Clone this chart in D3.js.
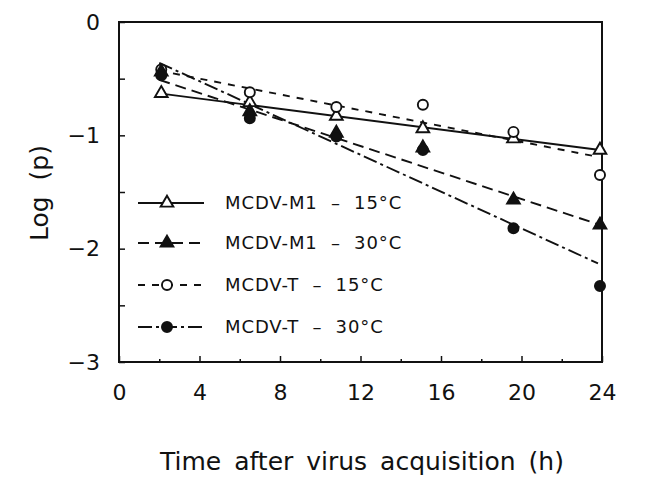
<!DOCTYPE html>
<html>
<head>
<meta charset="utf-8">
<script src="https://cdn.jsdelivr.net/npm/d3@7"></script>
<style>
  body { margin: 0; background: #fff; }
  svg { font-family: "DejaVu Sans", sans-serif; }
</style>
</head>
<body>
<svg width="669" height="479"></svg>
<script>
// time points as they sit in the figure (h)
const hours = [2.1, 6.5, 10.8, 15.1, 19.6, 23.9];

// log(p) per series
const m1_15 = [-0.63, -0.71, -0.83, -0.94, -1.03, -1.13];
const m1_30 = [-0.44, -0.79, -0.98, -1.11, -1.57, -1.79];
const t_15  = [-0.42, -0.62, -0.75, -0.73, -0.97, -1.35];
const t_30  = [-0.47, -0.85, -1.01, -1.13, -1.82, -2.33];

// fitted lines, start and end
const fitM1_15 = [[2.0, -0.63], [23.9, -1.13]];
const fitM1_30 = [[2.0, -0.51], [23.9, -1.79]];
const fitT_15  = [[2.0, -0.43], [23.8, -1.19]];
const fitT_30  = [[2.0, -0.36], [23.8, -2.13]];

const legendNames = ["MCDV-M1  –  15\u00b0C", "MCDV-M1  –  30\u00b0C", "MCDV-T  –  15\u00b0C", "MCDV-T  –  30\u00b0C"];

const xTicks = [0, 4, 8, 12, 16, 20, 24];
const yTicks = [0, -1, -2, -3];

const svg = d3.select("svg");

const x = d3.scaleLinear().domain([0, 24]).range([119, 602]);
const y = d3.scaleLinear().domain([-3, 0]).range([362, 22]);

const series = [
  { vals: m1_15, fit: fitM1_15, dash: null,          sym: d3.symbolTriangle, fill: "#fff" },
  { vals: m1_30, fit: fitM1_30, dash: "11,6",        sym: d3.symbolTriangle, fill: "#111" },
  { vals: t_15,  fit: fitT_15,  dash: "7,7",         sym: d3.symbolCircle,   fill: "#fff" },
  { vals: t_30,  fit: fitT_30,  dash: "14,4,3,4",    sym: d3.symbolCircle,   fill: "#111" }
];

// frame
svg.append("rect")
  .attr("x", x(0)).attr("y", y(0))
  .attr("width", x(24) - x(0)).attr("height", y(-3) - y(0))
  .attr("fill", "none").attr("stroke", "#111").attr("stroke-width", 2);

// axes: ticks point inward
const xAxis = svg.append("g")
  .attr("transform", `translate(0,${y(-3)})`)
  .call(d3.axisBottom(x).tickValues(xTicks).tickSize(-6).tickPadding(22).tickFormat(d3.format("d")));
svg.append("g")
  .attr("transform", `translate(0,${y(-3)})`)
  .call(d3.axisBottom(x).tickValues(d3.range(2, 24, 4)).tickSize(-3).tickFormat(""));

const yAxis = svg.append("g")
  .attr("transform", `translate(${x(0)},0)`)
  .call(d3.axisLeft(y).tickValues(yTicks).tickSize(-6).tickPadding(19).tickFormat(d => d === 0 ? "0" : "\u2212" + Math.abs(d)));
svg.append("g")
  .attr("transform", `translate(${x(0)},0)`)
  .call(d3.axisLeft(y).tickValues([-0.5, -1.5, -2.5]).tickSize(-6).tickFormat(""));

svg.selectAll(".domain").remove();
svg.selectAll(".tick line").attr("stroke", "#111").attr("stroke-width", 1.5);
svg.selectAll(".tick text")
  .attr("font-family", "DejaVu Sans, sans-serif")
  .attr("font-size", 22).attr("fill", "#111");
xAxis.selectAll(".tick text").attr("dy", "0.71em");

// fitted lines
const line = d3.line().x(d => x(d[0])).y(d => y(d[1]));
svg.selectAll(".fit")
  .data(series)
  .join("path")
  .attr("class", "fit")
  .attr("d", d => line(d.fit))
  .attr("fill", "none")
  .attr("stroke", "#111")
  .attr("stroke-width", 1.9)
  .attr("stroke-dasharray", d => d.dash);

// points: open markers first, filled ones on top
const drawOrder = [series[0], series[2], series[1], series[3]];
drawOrder.forEach(s => {
  svg.selectAll(null)
    .data(s.vals)
    .join("path")
    .attr("transform", (d, i) => `translate(${x(hours[i])},${y(d)})`)
    .attr("d", d3.symbol().type(s.sym).size(s.sym === d3.symbolCircle ? 80 : 70))
    .attr("fill", s.fill)
    .attr("stroke", "#111")
    .attr("stroke-width", 1.9);
});

// legend
const legend = svg.append("g");
const rowY = [203, 243, 285, 327];
series.forEach((s, i) => {
  const g = legend.append("g").attr("transform", `translate(0,${rowY[i]})`);
  g.append("line")
    .attr("x1", 138).attr("x2", 204).attr("y1", 0).attr("y2", 0)
    .attr("stroke", "#111").attr("stroke-width", 1.9)
    .attr("stroke-dasharray", s.dash);
  g.append("path")
    .attr("transform", "translate(167,0)")
    .attr("d", d3.symbol().type(s.sym).size(s.sym === d3.symbolCircle ? 80 : 70))
    .attr("fill", s.fill).attr("stroke", "#111").attr("stroke-width", 1.9);
  g.append("text")
    .attr("x", 225).attr("y", 0).attr("dy", "0.35em")
    .attr("font-size", 18).attr("fill", "#111")
    .attr("letter-spacing", 0.9)
    .style("white-space", "pre")
    .text(legendNames[i]);
});

// axis titles
svg.append("text")
  .attr("x", 362).attr("y", 470)
  .attr("text-anchor", "middle")
  .attr("font-size", 25).attr("fill", "#111")
  .attr("word-spacing", 5)
  .text("Time after virus acquisition (h)");

svg.append("text")
  .attr("transform", "translate(48,193) rotate(-90)")
  .attr("text-anchor", "middle")
  .attr("font-size", 25).attr("fill", "#111")
  .attr("word-spacing", 8)
  .text("Log (p)");
</script>
</body>
</html>
